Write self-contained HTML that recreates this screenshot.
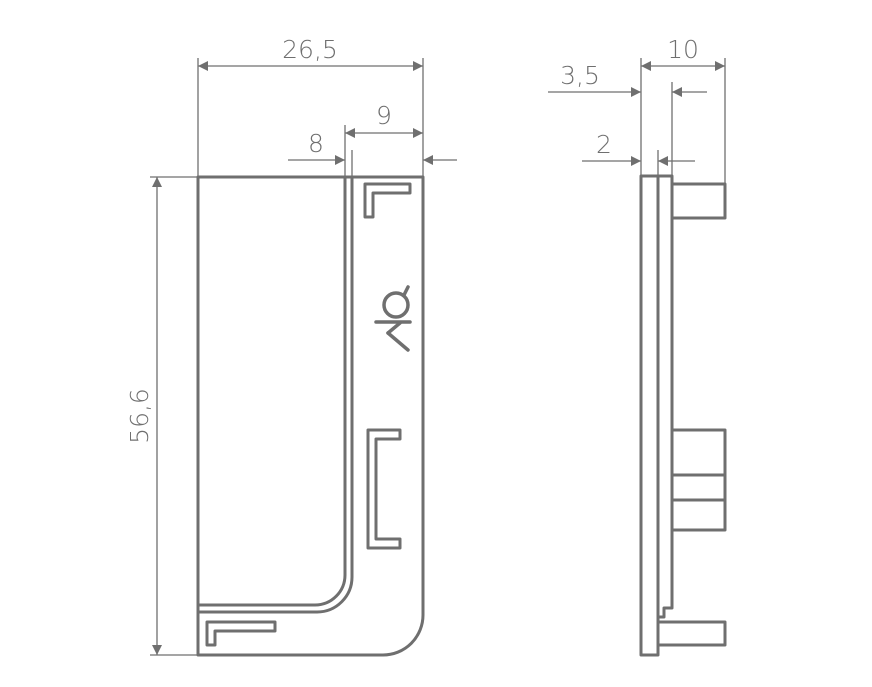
<!DOCTYPE html>
<html><head><style>body{margin:0;background:#fff}svg{display:block}</style></head>
<body>
<svg width="872" height="687" viewBox="0 0 872 687" xmlns="http://www.w3.org/2000/svg">
<defs>
<marker id="a" viewBox="0 0 10 10" refX="10" refY="5" markerWidth="14" markerHeight="10" markerUnits="userSpaceOnUse" orient="auto-start-reverse"><path d="M0,0L10,5L0,10z" fill="#6f6f6f"/></marker>
</defs>
<g stroke="#6f6f6f" fill="none" stroke-width="1.3">
<line x1="198" y1="58" x2="198" y2="177"/>
<line x1="423" y1="58" x2="423" y2="177"/>
<line x1="198" y1="66" x2="423" y2="66" marker-start="url(#a)" marker-end="url(#a)"/>
<line x1="345" y1="125" x2="345" y2="177"/>
<line x1="345" y1="133" x2="423" y2="133" marker-start="url(#a)" marker-end="url(#a)"/>
<line x1="288" y1="160" x2="345" y2="160" marker-end="url(#a)"/>
<line x1="457" y1="160" x2="423" y2="160" marker-end="url(#a)"/>
<line x1="352" y1="150" x2="352" y2="177"/>
<line x1="150" y1="177" x2="198" y2="177"/>
<line x1="150" y1="655" x2="198" y2="655"/>
<line x1="157" y1="177" x2="157" y2="655" marker-start="url(#a)" marker-end="url(#a)"/>
<line x1="641" y1="58" x2="641" y2="176"/>
<line x1="725" y1="58" x2="725" y2="184"/>
<line x1="641" y1="66" x2="725" y2="66" marker-start="url(#a)" marker-end="url(#a)"/>
<line x1="672" y1="82" x2="672" y2="176"/>
<line x1="548" y1="92" x2="641" y2="92" marker-end="url(#a)"/>
<line x1="707" y1="92" x2="672" y2="92" marker-end="url(#a)"/>
<line x1="658" y1="150" x2="658" y2="176"/>
<line x1="582" y1="161" x2="641" y2="161" marker-end="url(#a)"/>
<line x1="695" y1="161" x2="658" y2="161" marker-end="url(#a)"/>
</g>
<g stroke="#6f6f6f" fill="none" stroke-width="3" stroke-linejoin="round">
<path d="M198,177 H423 V615 A40,40 0 0 1 383,655 H198 Z"/>
<path d="M198,177 H345 V575 A30,30 0 0 1 315,605 H198"/>
<path d="M352,177 V577 A35,35 0 0 1 317,612 H198"/>
<path d="M365,184 H410 V193 H373 V217 H365 Z"/>
<path d="M368,430 H400 V439 H376 V539 H400 V548 H368 Z"/>
<path d="M207,622 H275 V631 H215 V645 H207 Z"/>
</g>
<g stroke="#6f6f6f" fill="none" stroke-width="3.5" stroke-linecap="round">
<circle cx="396" cy="305" r="12"/>
<line x1="404" y1="295" x2="408" y2="287"/>
<line x1="376" y1="322" x2="410" y2="322"/>
<line x1="400" y1="323" x2="388" y2="333"/>
<line x1="388" y1="333" x2="408" y2="350"/>
</g>
<g stroke="#6f6f6f" fill="none" stroke-width="3" stroke-linejoin="round">
<rect x="641" y="176" width="17" height="479"/>
<path d="M658,176 H672 V608 H664 V617 H658"/>
<rect x="672" y="184" width="53" height="34"/>
<rect x="672" y="430" width="53" height="100"/>
<line x1="672" y1="475" x2="725" y2="475"/>
<line x1="672" y1="500" x2="725" y2="500"/>
<rect x="658" y="622" width="67" height="23"/>
</g>
<g fill="#6f6f6f" font-family="DejaVu Sans, Liberation Sans, sans-serif" font-weight="200" font-size="25">
<text x="310" y="58" text-anchor="middle">26,5</text>
<text x="384" y="124" text-anchor="middle">9</text>
<text x="316" y="152" text-anchor="middle">8</text>
<text transform="translate(148,416) rotate(-90)" text-anchor="middle">56,6</text>
<text x="683" y="58" text-anchor="middle">10</text>
<text x="580" y="84" text-anchor="middle">3,5</text>
<text x="604" y="153" text-anchor="middle">2</text>
</g>
</svg>
</body></html>
